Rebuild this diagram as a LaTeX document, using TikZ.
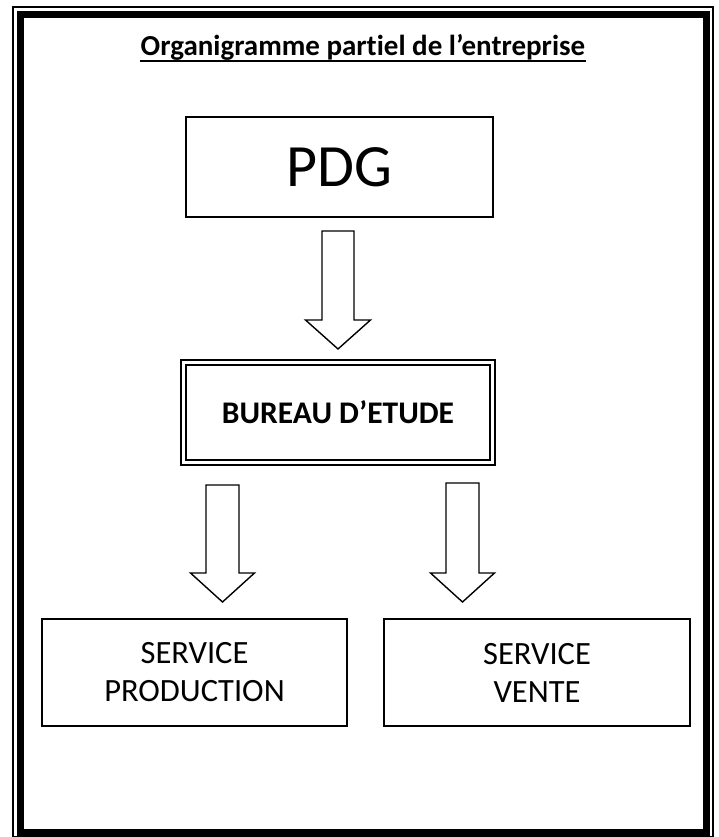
\documentclass[tikz,border=0pt]{standalone}
\usepackage{fontspec}
\setmainfont{Carlito}[Ligatures=NoCommon]
\tikzset{
  box/.style={draw=black, line width=1.4pt, inner sep=0pt, align=center},
  blockarrow/.style={draw=black, line width=1.4pt, line join=miter, fill=white},
  framethick/.style={draw=black, line width=7pt},
  framethin/.style={draw=black, line width=1.6pt},
}
\newcommand\blkarrow[5]{% center x, top y, tip y, shaft half width, head half width
  \draw[blockarrow] (#1-#4,#2) -- (#1+#4,#2) -- (#1+#4,#3-29) -- (#1+#5,#3-29) -- (#1,#3)
    -- (#1-#5,#3-29) -- (#1-#4,#3-29) -- cycle;}
\begin{document}
\begin{tikzpicture}[x=1pt, y=-1pt]
  \useasboundingbox (0,0) rectangle (719,837);
  \fill[white] (0,0) rectangle (719,837);
  % frame
  \draw[framethin] (13,7) rectangle (713,836.5);
  \draw[framethick] (20.5,14.5) rectangle (706,832);
  % title
  \node[inner sep=0pt, anchor=base, font=\fontsize{29}{35}\selectfont\bfseries] (title) at (363,56)
    {Organigramme partiel de l’entreprise};
  \draw[line width=1.8pt] ([yshift=-5pt]title.base west) -- ([yshift=-5pt]title.base east);
  % PDG
  \node[box, minimum width=307pt, minimum height=100pt, font=\fontsize{60}{72}\selectfont] (pdg) at (339.5,167) {PDG};
  % Bureau d'etude (double frame)
  \node[box, line width=2.6pt, minimum width=314pt, minimum height=105pt] (bureau) at (338,412.5) {};
  \node[box, line width=1.3pt, minimum width=304pt, minimum height=95pt,
        font=\fontsize{31.5}{38}\selectfont\bfseries] (bureauin) at (bureau.center) {BUREAU D’ETUDE};
  % services
  \node[box, minimum width=305pt, minimum height=107pt, font=\fontsize{32.5}{38}\selectfont] (prod) at (194.5,672.5)
    {SERVICE\\PRODUCTION};
  \node[box, minimum width=306pt, minimum height=107pt, font=\fontsize{32.5}{38}\selectfont] (vente) at (537,672.5)
    {SERVICE\\VENTE};
  % block arrows
  \blkarrow{338}{231}{349}{16}{32.5}
  \blkarrow{222.5}{485}{602}{16.5}{32}
  \blkarrow{462.5}{483}{602}{16.5}{32}
\end{tikzpicture}
\end{document}
